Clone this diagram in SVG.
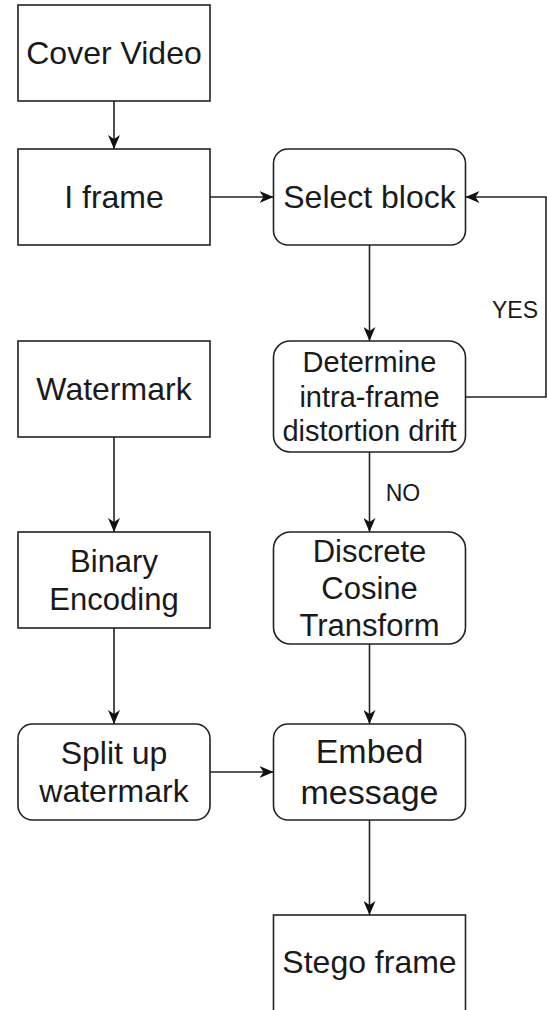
<svg xmlns="http://www.w3.org/2000/svg" width="547" height="1010" viewBox="0 0 547 1010">
<style>
.box{fill:#fff;stroke:#222;stroke-width:1.6}
.t{font-family:"Liberation Sans",Arial,sans-serif;fill:#1a1a1a;text-anchor:middle}
.c{fill:none;stroke:#222;stroke-width:1.6}
.lbl{font-family:"Liberation Sans",Arial,sans-serif;fill:#1a1a1a;text-anchor:middle;font-size:23px}
</style>
<defs>
<marker id="arr" viewBox="0 0 14 12" refX="14" refY="6" markerWidth="14" markerHeight="12" markerUnits="userSpaceOnUse" orient="auto">
<path d="M0,0 L14,6 L0,12 L4,6 Z" fill="#111"/>
</marker>
</defs>
<rect width="547" height="1010" fill="#fff"/>
<g id="connectors">
<line class="c" x1="114" y1="101" x2="114" y2="149" marker-end="url(#arr)"/>
<line class="c" x1="210" y1="197" x2="273.5" y2="197" marker-end="url(#arr)"/>
<line class="c" x1="369.5" y1="245" x2="369.5" y2="341" marker-end="url(#arr)"/>
<polyline class="c" points="465.5,397 546,397 546,197 465.5,197" marker-end="url(#arr)"/>
<text class="lbl" x="515" y="318">YES</text>
<line class="c" x1="369.5" y1="452" x2="369.5" y2="532" marker-end="url(#arr)"/>
<text class="lbl" x="403" y="501">NO</text>
<line class="c" x1="114" y1="437" x2="114" y2="532" marker-end="url(#arr)"/>
<line class="c" x1="114" y1="628" x2="114" y2="724" marker-end="url(#arr)"/>
<line class="c" x1="210" y1="772" x2="273.5" y2="772" marker-end="url(#arr)"/>
<line class="c" x1="369.5" y1="644" x2="369.5" y2="724" marker-end="url(#arr)"/>
<line class="c" x1="369.5" y1="820" x2="369.5" y2="915" marker-end="url(#arr)"/>
</g>
<g id="cover-video">
<rect class="box" x="18" y="5" width="192" height="96"/>
<text class="t" x="114" y="64" font-size="32">Cover Video</text>
</g>
<g id="i-frame">
<rect class="box" x="18" y="149" width="192" height="96"/>
<text class="t" x="114" y="208" font-size="32">I frame</text>
</g>
<g id="select-block">
<rect class="box" x="273.5" y="149" width="192" height="96" rx="14.4" ry="14.4"/>
<text class="t" x="369.5" y="208" font-size="32">Select block</text>
</g>
<g id="watermark">
<rect class="box" x="18" y="341" width="192" height="96"/>
<text class="t" x="114" y="400" font-size="32">Watermark</text>
</g>
<g id="determine">
<rect class="box" x="273.5" y="341" width="192" height="111" rx="16.6" ry="16.6"/>
<text class="t" font-size="29"><tspan x="369.5" y="371.7">Determine</tspan><tspan x="369.5" y="406.5">intra-frame</tspan><tspan x="369.5" y="441.3">distortion drift</tspan></text>
</g>
<g id="binary-encoding">
<rect class="box" x="18" y="532" width="192" height="96"/>
<text class="t" font-size="31"><tspan x="114" y="572.3">Binary</tspan><tspan x="114" y="609.5">Encoding</tspan></text>
</g>
<g id="dct">
<rect class="box" x="273.5" y="532" width="192" height="112" rx="16.8" ry="16.8"/>
<text class="t" font-size="31"><tspan x="369.5" y="561.5">Discrete</tspan><tspan x="369.5" y="598.7">Cosine</tspan><tspan x="369.5" y="635.9">Transform</tspan></text>
</g>
<g id="split-up">
<rect class="box" x="18" y="724" width="192" height="96" rx="14.4" ry="14.4"/>
<text class="t" font-size="32"><tspan x="114" y="763.9">Split up</tspan><tspan x="114" y="802.3">watermark</tspan></text>
</g>
<g id="embed-message">
<rect class="box" x="273.5" y="724" width="192" height="96" rx="14.4" ry="14.4"/>
<text class="t" font-size="34"><tspan x="369.5" y="763.4">Embed</tspan><tspan x="369.5" y="804.2">message</tspan></text>
</g>
<g id="stego-frame">
<rect class="box" x="273.5" y="915" width="192" height="96"/>
<text class="t" x="369.5" y="973" font-size="32">Stego frame</text>
</g>
</svg>
